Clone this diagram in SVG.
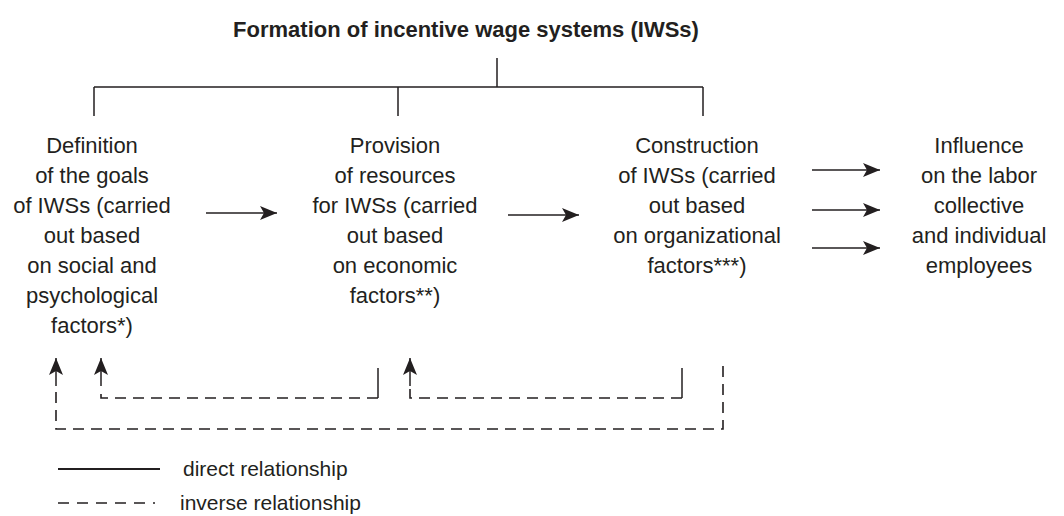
<svg xmlns="http://www.w3.org/2000/svg" width="1064" height="516" viewBox="0 0 1064 516">
<style>
text{font-family:"Liberation Sans",Arial,sans-serif;fill:#231f20}
.t{font-size:22px;text-anchor:middle}
.title{font-size:22px;font-weight:bold;text-anchor:middle}
.lg{font-size:21px}
.s{stroke:#231f20;stroke-width:1.5;fill:none}
.d{stroke:#231f20;stroke-width:1.6;fill:none;stroke-dasharray:11 7}
</style>
<defs>
<marker id="ah" markerUnits="userSpaceOnUse" markerWidth="18" markerHeight="14" refX="17" refY="7" orient="auto">
<path d="M0,0 L17,7 L0,14 L4,7 Z" fill="#231f20"/>
</marker>
</defs>
<rect width="1064" height="516" fill="#fff"/>
<g id="title">
<text class="title" x="466" y="37">Formation of incentive wage systems (IWSs)</text>
</g>
<g id="tree">
<path class="s" d="M497,58 V87 M94,87 H703 M94,87 V116 M398,87 V116 M703,87 V116"/>
</g>
<g id="node1">
<text class="t" x="92" y="153">Definition</text>
<text class="t" x="92" y="183">of the goals</text>
<text class="t" x="92" y="213">of IWSs (carried</text>
<text class="t" x="92" y="243">out based</text>
<text class="t" x="92" y="273">on social and</text>
<text class="t" x="92" y="303">psychological</text>
<text class="t" x="92" y="333">factors*)</text>
</g>
<g id="node2">
<text class="t" x="395" y="153">Provision</text>
<text class="t" x="395" y="183">of resources</text>
<text class="t" x="395" y="213">for IWSs (carried</text>
<text class="t" x="395" y="243">out based</text>
<text class="t" x="395" y="273">on economic</text>
<text class="t" x="395" y="303">factors**)</text>
</g>
<g id="node3">
<text class="t" x="697" y="153">Construction</text>
<text class="t" x="697" y="183">of IWSs (carried</text>
<text class="t" x="697" y="213">out based</text>
<text class="t" x="697" y="243">on organizational</text>
<text class="t" x="697" y="273">factors***)</text>
</g>
<g id="node4">
<text class="t" x="979" y="153">Influence</text>
<text class="t" x="979" y="183">on the labor</text>
<text class="t" x="979" y="213">collective</text>
<text class="t" x="979" y="243">and individual</text>
<text class="t" x="979" y="273">employees</text>
</g>
<g id="connectors">
<line class="s" x1="206" y1="213" x2="277" y2="213" marker-end="url(#ah)"/>
<line class="s" x1="508" y1="215" x2="579" y2="215" marker-end="url(#ah)"/>
<line class="s" x1="812" y1="170" x2="880" y2="170" marker-end="url(#ah)"/>
<line class="s" x1="812" y1="210" x2="880" y2="210" marker-end="url(#ah)"/>
<line class="s" x1="812" y1="248" x2="880" y2="248" marker-end="url(#ah)"/>
<line class="s" x1="378" y1="368" x2="378" y2="398"/>
<path class="d" d="M378,398 H101 V388"/>
<line class="s" x1="101" y1="386" x2="101" y2="358" marker-end="url(#ah)"/>
<line class="s" x1="682" y1="368" x2="682" y2="398"/>
<path class="d" d="M682,398 H410 V388"/>
<line class="s" x1="410" y1="386" x2="410" y2="358" marker-end="url(#ah)"/>
<path class="d" d="M723,366 V429 H56 V388"/>
<line class="s" x1="56" y1="386" x2="56" y2="358" marker-end="url(#ah)"/>
</g>
<g id="legend">
<line class="s" x1="58" y1="469" x2="160" y2="469" style="stroke-width:2"/>
<text class="lg" x="183" y="476">direct relationship</text>
<line class="s" x1="58" y1="503" x2="155" y2="503" style="stroke-dasharray:11 8"/>
<text class="lg" x="180" y="510">inverse relationship</text>
</g>
</svg>
